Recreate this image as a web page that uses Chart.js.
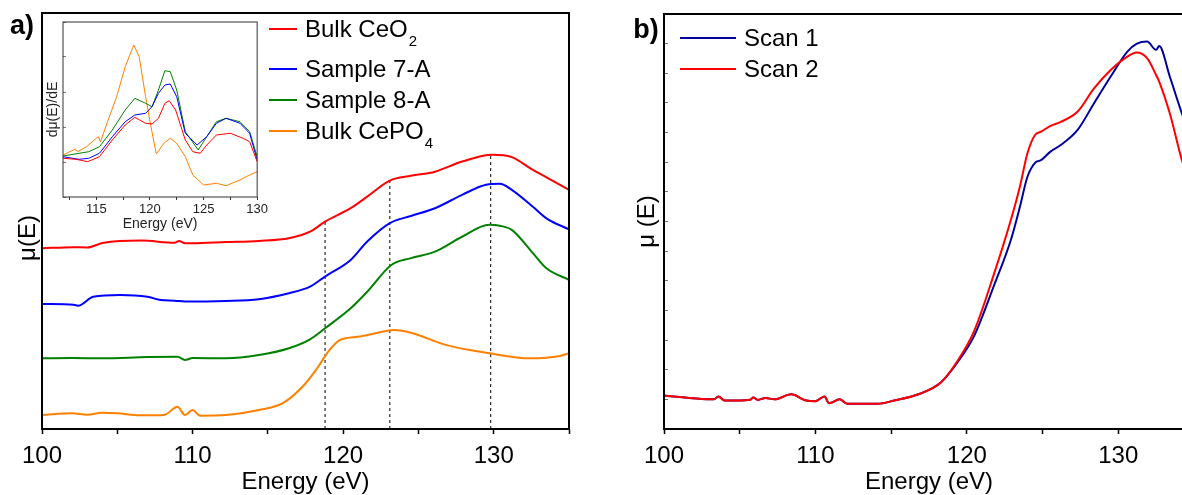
<!DOCTYPE html>
<html>
<head>
<meta charset="utf-8">
<script src="https://cdn.jsdelivr.net/npm/chart.js@4.4.0/dist/chart.umd.min.js"></script>
<style>
  html, body { margin: 0; padding: 0; background: #fff; overflow: hidden; }
  #wrap { position: relative; width: 1182px; height: 495px; overflow: hidden; }
  canvas { position: absolute; top: 0; }
</style>
</head>
<body>
<div id="wrap">
  <canvas id="chartA" width="600" height="495" style="left:0"></canvas>
  <canvas id="inset" width="270" height="235" style="left:0"></canvas>
  <canvas id="chartB" width="620" height="495" style="left:600px"></canvas>
</div>
<script>
// ---- panel a: mu(E), stacked spectra ----
const energyCeO2 = [100, 102.1, 103, 104.1, 106.6, 108.8, 109.1, 109.5, 110, 112.2, 114.4, 116.4, 117.8, 118.8, 120.5, 121.6, 123.1, 124.5, 126.1, 127.9, 129.9, 131.2, 132.6, 133.5, 135];
const muCeO2 = [0.608, 0.612, 0.611, 0.627, 0.634, 0.627, 0.633, 0.625, 0.625, 0.629, 0.633, 0.642, 0.664, 0.698, 0.743, 0.782, 0.836, 0.852, 0.866, 0.900, 0.923, 0.915, 0.872, 0.847, 0.805];

const energyS7A = [100, 102.1, 102.4, 103.4, 105.2, 107, 107.9, 108.8, 109.5, 112.2, 114.4, 116.4, 117.8, 118.8, 120.5, 121.6, 123.1, 124.5, 126.1, 127.9, 129.5, 130.4, 131.2, 132.6, 133.5, 135];
const muS7A = [0.421, 0.418, 0.415, 0.445, 0.451, 0.445, 0.434, 0.432, 0.429, 0.431, 0.437, 0.457, 0.479, 0.513, 0.569, 0.631, 0.693, 0.717, 0.743, 0.788, 0.822, 0.825, 0.805, 0.748, 0.709, 0.672];

const energyS8A = [100, 102, 104, 107, 109, 109.5, 110, 112.2, 114.4, 116.4, 117.8, 118.8, 120.5, 121.6, 123.2, 124.5, 126.1, 127.9, 129.7, 130.4, 131.2, 132.6, 133.5, 135];
const muS8A = [0.238, 0.239, 0.238, 0.242, 0.243, 0.232, 0.239, 0.238, 0.249, 0.272, 0.302, 0.339, 0.406, 0.462, 0.552, 0.575, 0.597, 0.647, 0.687, 0.684, 0.670, 0.592, 0.541, 0.502];

const energyCePO4 = [100, 102, 103, 104, 105, 106.5, 107.4, 108.2, 109, 109.5, 110, 110.5, 112.2, 114.4, 116, 117.3, 118.2, 119.1, 119.8, 121.1, 122.3, 123.4, 124.5, 126.8, 129.7, 132.4, 134.4, 135];
const muCePO4 = [0.047, 0.053, 0.048, 0.055, 0.053, 0.046, 0.046, 0.049, 0.075, 0.047, 0.064, 0.045, 0.047, 0.064, 0.087, 0.142, 0.199, 0.266, 0.300, 0.311, 0.324, 0.333, 0.324, 0.283, 0.255, 0.238, 0.246, 0.255];

// dotted guide lines (energy, height where they meet the CeO2 curve)
const guideE = [118.8, 123.1, 129.8];
const guideTop = [0.698, 0.836, 0.922];

// ---- inset: derivative d mu / dE ----
const dEnergyCeO2 = [111.9, 113.1, 114.2, 115.3, 116.5, 117.7, 118.6, 119.6, 120.2, 120.8, 121.4, 121.8, 122.4, 123.3, 124, 124.7, 125.3, 126.2, 127.5, 128.7, 129.3, 130];
const dMuCeO2 = [1.106, 1.077, 1.009, 1.151, 1.629, 2.057, 2.277, 2.106, 2.086, 2.249, 2.677, 2.751, 2.486, 1.629, 1.294, 1.249, 1.486, 1.771, 1.820, 1.677, 1.580, 1.009];
const dEnergyS7A = [111.9, 113.4, 114.3, 115.3, 116.5, 117.7, 118.6, 119.6, 120.2, 120.8, 121.4, 121.9, 122.5, 123.3, 124.4, 125.3, 126.2, 127.1, 128.4, 129.3, 130];
const dMuS7A = [1.151, 1.077, 1.106, 1.249, 1.723, 2.151, 2.343, 2.391, 2.580, 2.963, 3.200, 3.229, 2.866, 1.820, 1.486, 1.723, 2.106, 2.249, 2.106, 1.820, 1.057];
const dEnergyS8A = [111.9, 113.4, 114.3, 115.3, 116.5, 117.7, 118.6, 119.6, 120.2, 120.8, 121.4, 121.9, 122.5, 123.3, 124.5, 125.3, 126.2, 127.1, 128.4, 129.3, 130];
const dMuS8A = [1.171, 1.249, 1.294, 1.437, 1.914, 2.486, 2.820, 2.677, 2.580, 3.057, 3.609, 3.580, 3.057, 1.866, 1.343, 1.723, 2.151, 2.249, 2.151, 1.866, 1.151];
const dEnergyCePO4 = [111.9, 113, 113.3, 114.1, 115, 115.2, 115.4, 116, 116.9, 117.7, 118.5, 119, 119.6, 120.1, 120.6, 121.3, 121.9, 122.5, 123.3, 124, 125, 126.2, 127.1, 128.4, 129.3, 130];
const dMuCePO4 = [1.200, 1.363, 1.300, 1.437, 1.677, 1.723, 1.580, 2.106, 2.866, 3.723, 4.343, 4.009, 2.866, 2.009, 1.229, 1.534, 1.677, 1.534, 1.151, 0.629, 0.343, 0.391, 0.323, 0.486, 0.629, 0.723];

// ---- panel b: two scans ----
const energyScan = [100, 101.9, 103.3, 103.6, 104, 105.7, 105.9, 106.2, 106.7, 107.3, 108.4, 109.4, 110, 110.6, 110.9, 111.6, 112.1, 114.1, 115.2, 116.9, 118.3, 119.4, 120.5, 121.8, 122.9, 123.5, 124, 124.5, 124.9, 125.5, 126.2, 127.3, 128.4, 129.5, 130.6, 131.2, 131.9, 132.5, 132.7, 133.4, 134.2, 135];
const muScan1 = [0.113, 0.104, 0.100, 0.110, 0.096, 0.099, 0.106, 0.098, 0.105, 0.100, 0.117, 0.096, 0.094, 0.110, 0.087, 0.100, 0.085, 0.085, 0.096, 0.119, 0.158, 0.226, 0.316, 0.485, 0.637, 0.749, 0.851, 0.898, 0.907, 0.935, 0.958, 1.008, 1.099, 1.189, 1.273, 1.299, 1.307, 1.279, 1.292, 1.189, 1.065, 0.958];
const muScan2 = [0.113, 0.104, 0.100, 0.110, 0.096, 0.099, 0.106, 0.098, 0.105, 0.100, 0.117, 0.096, 0.094, 0.110, 0.087, 0.100, 0.085, 0.085, 0.096, 0.119, 0.158, 0.231, 0.333, 0.524, 0.704, 0.817, 0.930, 0.992, 1.003, 1.022, 1.036, 1.070, 1.149, 1.211, 1.256, 1.270, 1.251, 1.194, 1.172, 1.065, 0.907, 0.789];

const xTicksMain = { min: 100, max: 135, step: 5, labelEvery: 10 };

const FONT = "'Liberation Sans', Arial, Helvetica, sans-serif";
Chart.defaults.font.family = FONT;
Chart.defaults.color = '#000';

function pts(xs, ys) {
  return xs.map((x, i) => ({ x: x, y: ys[i] }));
}

function curve(label, xs, ys, color, width, smooth) {
  return {
    label: label,
    data: pts(xs, ys),
    borderColor: color,
    borderWidth: width,
    pointRadius: 0,
    fill: false,
    tension: smooth ? 0.4 : 0,
    cubicInterpolationMode: smooth ? 'monotone' : 'default',
    inKey: true
  };
}

// frame round the plot area
const framePlugin = {
  id: 'frame',
  afterDraw(chart, args, opts) {
    const { ctx, chartArea: a } = chart;
    ctx.save();
    ctx.strokeStyle = opts.color || '#000';
    ctx.lineWidth = opts.width || 2;
    ctx.strokeRect(a.left, a.top, a.right - a.left, a.bottom - a.top);
    ctx.restore();
  }
};

// legend drawn by hand, "_" marks a subscript
const keyPlugin = {
  id: 'key',
  afterDraw(chart, args, opts) {
    if (!opts.rows) return;
    const ctx = chart.ctx;
    ctx.save();
    let row = 0;
    chart.data.datasets.forEach(ds => {
      if (!ds.inKey) return;
      const y = opts.rows[row++];
      ctx.strokeStyle = ds.borderColor;
      ctx.lineWidth = 2;
      ctx.beginPath();
      ctx.moveTo(opts.x0, y);
      ctx.lineTo(opts.x1, y);
      ctx.stroke();
      const parts = ds.label.split('_');
      ctx.fillStyle = '#000';
      ctx.textAlign = 'left';
      ctx.textBaseline = 'middle';
      ctx.font = '24px ' + FONT;
      ctx.fillText(parts[0], opts.tx, y + 1);
      if (parts[1]) {
        const w = ctx.measureText(parts[0]).width;
        ctx.font = '15px ' + FONT;
        ctx.fillText(parts[1], opts.tx + w + 1, y + 13);
      }
    });
    ctx.restore();
  }
};

// free text: panel letters, rotated titles
const notesPlugin = {
  id: 'notes',
  afterDraw(chart, args, opts) {
    const ctx = chart.ctx;
    (opts.items || []).forEach(t => {
      ctx.save();
      ctx.translate(t.x, t.y);
      ctx.rotate(t.rot || 0);
      ctx.font = t.font;
      ctx.fillStyle = '#000';
      ctx.textAlign = t.align || 'center';
      ctx.textBaseline = 'middle';
      ctx.fillText(t.text, 0, 0);
      ctx.restore();
    });
  }
};

function energyAxis(height) {
  return {
    type: 'linear',
    min: xTicksMain.min,
    max: xTicksMain.max,
    ticks: {
      stepSize: xTicksMain.step,
      autoSkip: false,
      maxRotation: 0,
      padding: 8,
      font: { size: 24 },
      callback: v => (v % xTicksMain.labelEvery === 0 ? String(v) : '')
    },
    grid: { drawOnChartArea: false, drawTicks: true, tickLength: 5, tickColor: '#000', tickWidth: 1.5 },
    border: { display: false },
    title: { display: true, text: 'Energy (eV)', font: { size: 24, lineHeight: 1 }, padding: { top: 0, bottom: 1 } },
    afterFit: s => { s.height = height; }
  };
}

// ---------- panel a ----------
const guideSets = guideE.map((e, i) => ({
  label: 'guide' + i,
  data: [{ x: e, y: 0 }, { x: e, y: guideTop[i] }],
  borderColor: '#000',
  borderWidth: 1,
  borderDash: [3, 3],
  pointRadius: 0,
  order: 5,
  inKey: false
}));

new Chart(document.getElementById('chartA'), {
  type: 'line',
  data: {
    datasets: [
      curve('Bulk CeO_2', energyCeO2, muCeO2, '#ff0000', 2, true),
      curve('Sample 7-A', energyS7A, muS7A, '#0000ff', 2, true),
      curve('Sample 8-A', energyS8A, muS8A, '#008000', 2, true),
      curve('Bulk CePO_4', energyCePO4, muCePO4, '#ff8000', 2, true),
      ...guideSets
    ]
  },
  options: {
    responsive: false,
    animation: false,
    layout: { padding: { top: 13, right: 31, bottom: 0, left: 0 } },
    plugins: {
      legend: { display: false },
      tooltip: { enabled: false },
      frame: { width: 2 },
      key: { x0: 269, x1: 297, tx: 305, rows: [29, 69, 100, 131] },
      notes: {
        items: [
          { text: 'a)', x: 22, y: 27, font: 'bold 27px ' + FONT },
          { text: 'μ(E)', x: 28, y: 238, rot: -Math.PI / 2, font: '24px ' + FONT }
        ]
      }
    },
    scales: {
      x: energyAxis(66),
      y: {
        min: 0, max: 1.4,
        ticks: { display: false },
        grid: { display: false },
        border: { display: false },
        afterFit: s => { s.width = 42; }
      }
    }
  },
  plugins: [framePlugin, keyPlugin, notesPlugin]
});

// ---------- inset ----------
new Chart(document.getElementById('inset'), {
  type: 'line',
  data: {
    datasets: [
      curve('Bulk CeO2', dEnergyCeO2, dMuCeO2, '#ff0000', 1, false),
      curve('Sample 7-A', dEnergyS7A, dMuS7A, '#0000ff', 1, false),
      curve('Sample 8-A', dEnergyS8A, dMuS8A, '#008000', 1, false),
      curve('Bulk CePO4', dEnergyCePO4, dMuCePO4, '#ff8000', 1, false)
    ]
  },
  options: {
    responsive: false,
    animation: false,
    layout: { padding: { top: 22, right: 12, bottom: 0, left: 0 } },
    plugins: {
      legend: { display: false },
      tooltip: { enabled: false },
      frame: { width: 1, color: '#333' }
    },
    scales: {
      x: {
        type: 'linear', min: 111.9, max: 130,
        ticks: {
          stepSize: 2.5, includeBounds: false, autoSkip: false, maxRotation: 0, padding: 2,
          font: { size: 13 }, color: '#222',
          callback: v => (v % 5 === 0 ? String(v) : '')
        },
        grid: { drawOnChartArea: false, tickLength: 3, tickColor: '#333', tickWidth: 1 },
        border: { display: false },
        title: { display: true, text: 'Energy (eV)', color: '#222', font: { size: 14, lineHeight: 1 }, padding: { top: 0, bottom: 4 } },
        afterFit: s => { s.height = 38; }
      },
      y: {
        min: 0, max: 5,
        ticks: { display: false, stepSize: 1 },
        grid: { drawOnChartArea: false, tickLength: -3, tickColor: '#777', tickWidth: 1 },
        border: { display: false },
        title: { display: true, text: 'dμ(E)/dE', color: '#222', font: { size: 14, lineHeight: 1 }, padding: { top: 46, bottom: 0 } },
        afterFit: s => { s.width = 63; }
      }
    }
  },
  plugins: [framePlugin]
});

// ---------- panel b ----------
const scan1 = curve('Scan 1', energyScan, muScan1, '#00009c', 2, true);
const scan2 = curve('Scan 2', energyScan, muScan2, '#ff0000', 2, true);
scan1.order = 2;   // red scan drawn on top, as in the figure
scan2.order = 1;

new Chart(document.getElementById('chartB'), {
  type: 'line',
  data: { datasets: [scan1, scan2] },
  options: {
    responsive: false,
    animation: false,
    layout: { padding: { top: 14, right: 26, bottom: 0, left: 0 } },
    plugins: {
      legend: { display: false },
      tooltip: { enabled: false },
      frame: { width: 2 },
      key: { x0: 80, x1: 136, tx: 144, rows: [38, 69] },
      notes: {
        items: [
          { text: 'b)', x: 46, y: 31, font: 'bold 27px ' + FONT }
        ]
      }
    },
    scales: {
      x: energyAxis(66),
      y: {
        min: 0, max: 1.4,
        ticks: { display: false, stepSize: 0.1 },
        grid: { drawOnChartArea: false, tickLength: -4, tickColor: '#777', tickWidth: 1 },
        border: { display: false },
        title: { display: true, text: 'μ (E)', font: { size: 24, lineHeight: 1 }, padding: { top: 35, bottom: 0 } },
        afterFit: s => { s.width = 64; }
      }
    }
  },
  plugins: [framePlugin, keyPlugin, notesPlugin]
});
</script>
</body>
</html>
